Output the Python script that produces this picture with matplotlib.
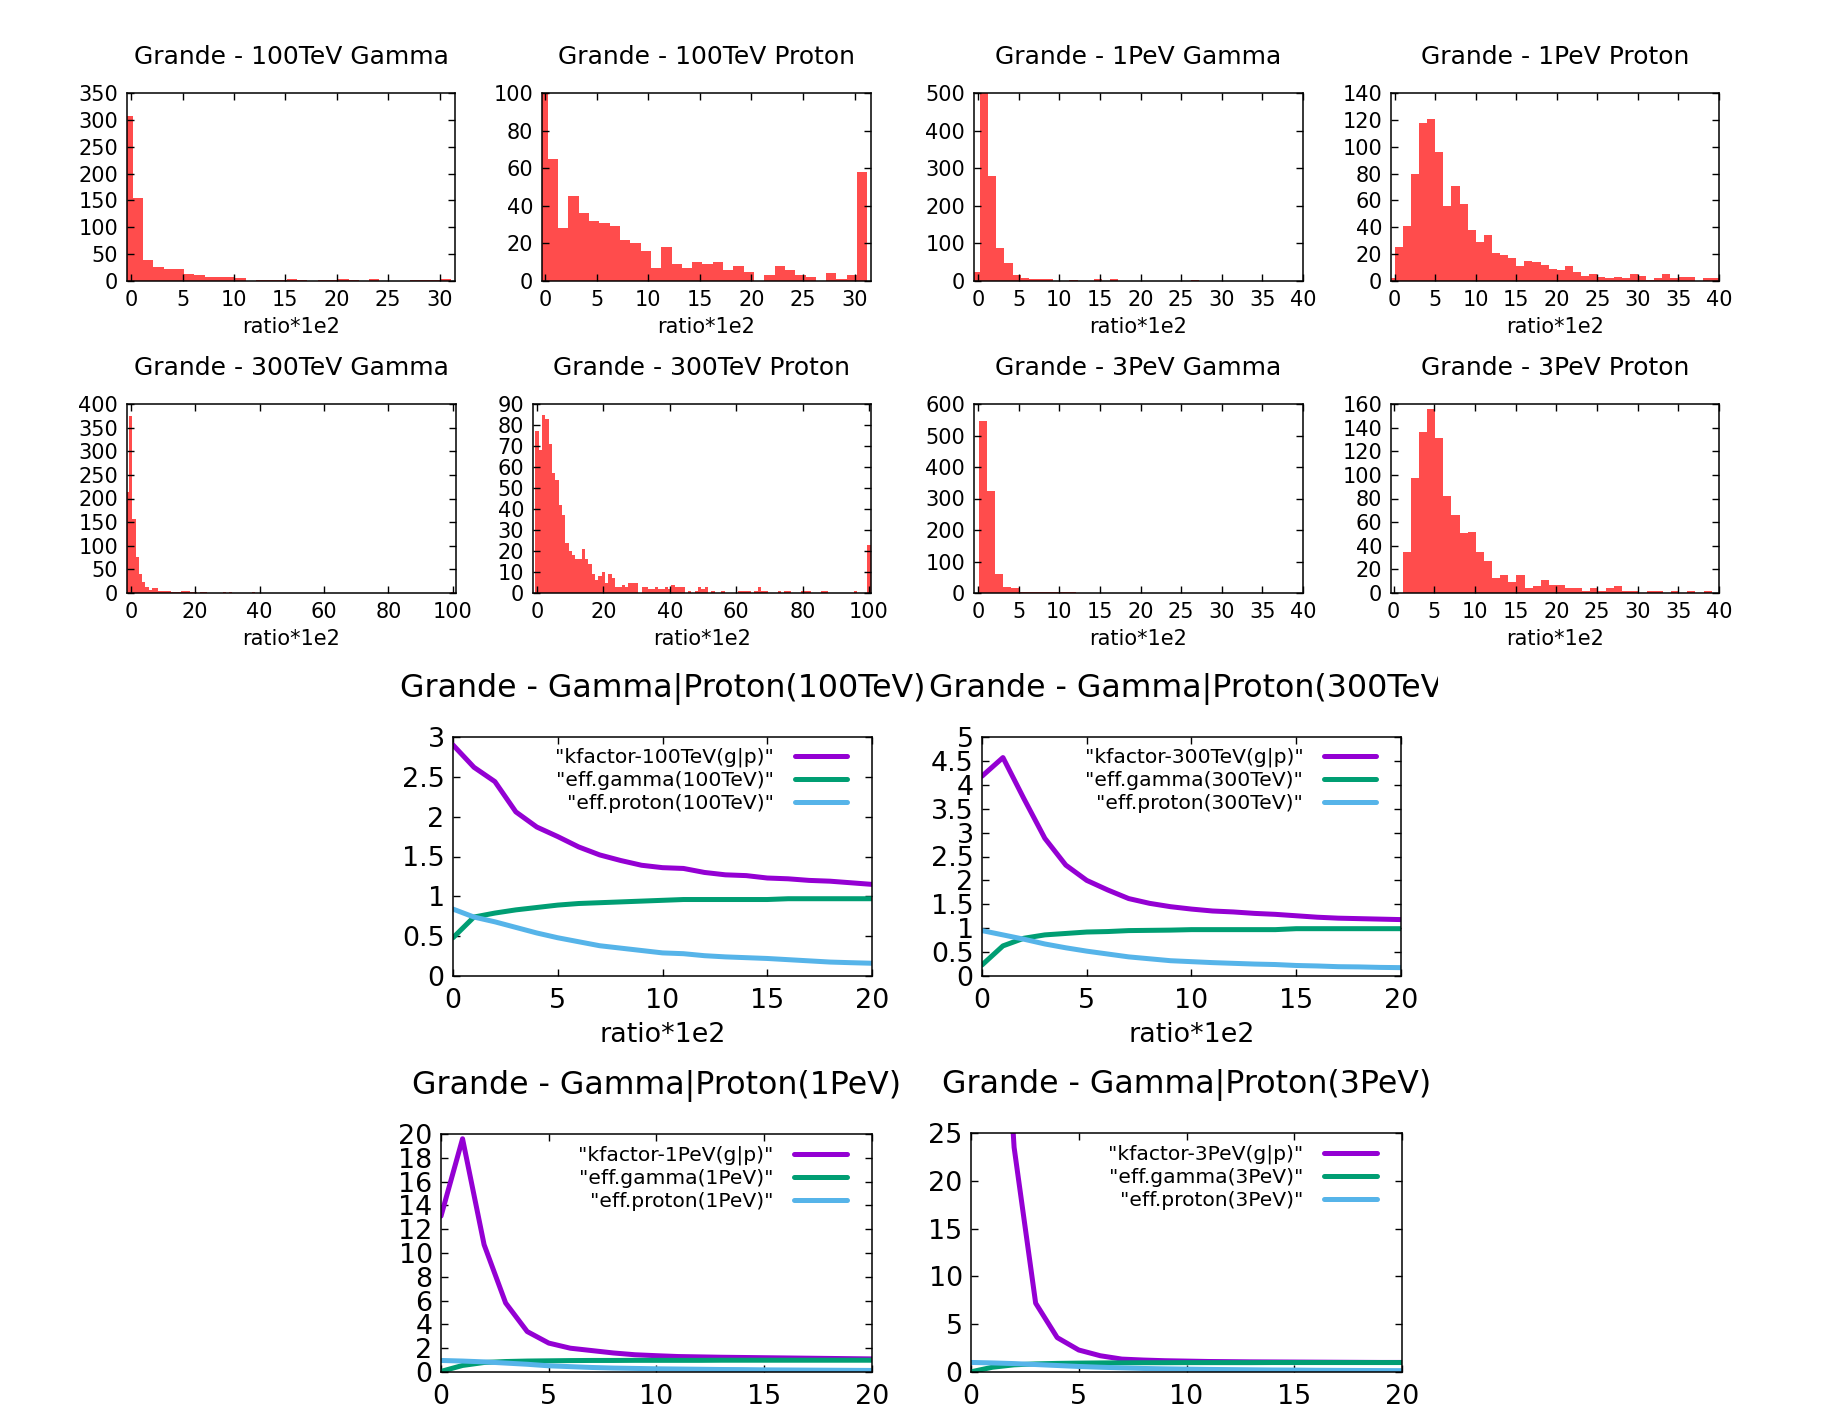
import numpy as np
import matplotlib
matplotlib.use('Agg')
import matplotlib.pyplot as plt
from matplotlib.patches import Rectangle
from matplotlib.ticker import FormatStrFormatter, MultipleLocator

# ---------------- data: histograms (ratio*1e2, counts) ----------------
hist_titles = ["Grande - 100TeV Gamma", "Grande - 100TeV Proton",
               "Grande - 1PeV Gamma", "Grande - 1PeV Proton",
               "Grande - 300TeV Gamma", "Grande - 300TeV Proton",
               "Grande - 3PeV Gamma", "Grande - 3PeV Proton"]

# 100TeV gamma: first bin center and counts (bin width 1)
g100_start = -0.35
g100_counts = [307, 155, 39, 26, 22, 22, 13, 11, 7, 7, 7, 5, 0, 1, 1, 1, 4, 1, 0, 1,
               1, 3, 1, 0, 3, 0, 0, 0, 1, 1, 1, 4]
p100_start = -0.25
p100_counts = [140, 65, 28, 45, 36, 32, 31, 29, 22, 20, 16, 7, 18, 9, 7, 10, 9, 10, 6, 8,
               5, 0, 3, 8, 6, 3, 2, 0, 4, 1, 3, 58]
g1P_start = -0.25
g1P_counts = [25, 560, 280, 88, 48, 15, 8, 4, 4, 4, 1, 0, 2, 0, 0, 4, 0, 4, 0, 0,
              1, 1, 1, 0, 1, 0, 1, 3, 0, 1, 1, 1]
p1P_start = -0.5
p1P_counts = [2, 25, 41, 80, 118, 121, 96, 56, 71, 57, 38, 29, 34, 21, 19, 17, 11, 15, 14, 12,
              9, 8, 11, 7, 4, 5, 3, 2, 3, 2, 5, 4, 1, 2, 5, 2, 3, 3, 0, 2, 2]
g300_x = [-1, 0, 1, 2, 3, 4, 5, 6, 7, 8, 9, 10, 11, 12, 13, 14, 15, 16, 17, 18, 19, 20,
          22, 23, 29, 31, 38, 72, 100]
g300_counts = [214, 375, 156, 76, 40, 23, 13, 7, 10, 10, 5, 5, 4, 4, 2, 2, 2, 4, 4, 4, 2, 2,
               3, 3, 3, 2, 3, 1, 2]
p300_x = [0, 1, 2, 3, 4, 5, 6, 7, 8, 9, 10, 11, 12, 13, 14, 15, 16, 17, 18, 19, 20, 21, 22,
          23, 24, 25, 26, 27, 28, 29, 30, 32, 33, 34, 35, 36, 37, 38, 39, 40, 41, 42, 43, 44,
          46, 48, 49, 50, 51, 53, 56, 61, 62, 63, 64, 66, 67, 68, 69, 73, 75, 76, 80, 81, 82,
          86, 87, 96, 100]
p300_counts = [77, 68, 85, 83, 71, 57, 54, 42, 37, 24, 20, 18, 16, 16, 21, 16, 14, 9, 6, 8, 10,
               5, 9, 7, 3, 3, 4, 3, 5, 5, 5, 3, 3, 2, 2, 3, 2, 2, 3, 2, 4, 3, 3, 3,
               1, 1, 3, 2, 3, 1, 1, 1, 1, 1, 1, 1, 3, 1, 1, 1, 1, 1, 1, 1, 1,
               1, 1, 1, 23]
g3P_start = 0.6
g3P_counts = [545, 325, 60, 19, 17, 4, 4, 4, 2, 2, 2, 4, 1, 1, 1, 1, 0, 1, 0, 0,
              1, 0, 1, 0, 1, 1, 0, 0, 0, 0, 0, 0, 0, 0, 0, 0, 1]
p3P_start = 1.6
p3P_counts = [35, 97, 136, 156, 131, 82, 66, 51, 52, 35, 27, 13, 15, 9, 15, 4, 6, 11, 7, 7,
              4, 4, 2, 4, 2, 4, 6, 2, 2, 0, 2, 2, 0, 2, 0, 2, 0, 2]

# ---------------- data: efficiency / k-factor curves ----------------
cut = list(range(21))
k100 = [2.90, 2.62, 2.44, 2.06, 1.87, 1.75, 1.62, 1.52, 1.45, 1.39, 1.36, 1.35, 1.30, 1.27,
        1.26, 1.23, 1.22, 1.20, 1.19, 1.17, 1.15]
g100 = [0.48, 0.74, 0.79, 0.83, 0.86, 0.89, 0.91, 0.92, 0.93, 0.94, 0.95, 0.96, 0.96, 0.96,
        0.96, 0.96, 0.97, 0.97, 0.97, 0.97, 0.97]
p100 = [0.84, 0.74, 0.68, 0.61, 0.54, 0.48, 0.43, 0.38, 0.35, 0.32, 0.29, 0.28, 0.255, 0.24,
        0.23, 0.22, 0.205, 0.19, 0.175, 0.167, 0.16]
k300 = [4.18, 4.57, 3.71, 2.88, 2.32, 2.00, 1.80, 1.62, 1.52, 1.45, 1.40, 1.36, 1.34, 1.31,
        1.29, 1.26, 1.23, 1.21, 1.20, 1.19, 1.18]
g300 = [0.23, 0.63, 0.79, 0.86, 0.89, 0.92, 0.93, 0.95, 0.955, 0.96, 0.97, 0.97, 0.97, 0.97,
        0.97, 0.99, 0.99, 0.99, 0.99, 0.99, 0.99]
p300 = [0.95, 0.86, 0.77, 0.67, 0.59, 0.52, 0.46, 0.40, 0.36, 0.32, 0.30, 0.28, 0.265, 0.25,
        0.24, 0.22, 0.21, 0.195, 0.19, 0.18, 0.175]
k1P = [13.1, 19.6, 10.7, 5.8, 3.4, 2.43, 2.0, 1.8, 1.6, 1.45, 1.37, 1.30, 1.27, 1.24, 1.22,
       1.20, 1.18, 1.16, 1.14, 1.12, 1.10]
g1P = [0.05, 0.55, 0.80, 0.88, 0.92, 0.94, 0.96, 0.97, 0.97, 0.98, 0.98, 0.98, 0.98, 0.99,
       0.99, 0.99, 0.99, 0.99, 0.99, 0.99, 0.99]
p1P = [0.97, 0.92, 0.85, 0.75, 0.65, 0.52, 0.45, 0.38, 0.33, 0.30, 0.27, 0.25, 0.23, 0.21,
       0.20, 0.18, 0.17, 0.16, 0.15, 0.14, 0.13]
k3P = [40.0, 60.0, 23.5, 7.2, 3.6, 2.3, 1.7, 1.35, 1.25, 1.18, 1.14, 1.10, 1.08, 1.06, 1.05,
       1.04, 1.03, 1.02, 1.01, 1.00, 1.00]
g3P = [0.02, 0.50, 0.75, 0.85, 0.90, 0.93, 0.95, 0.96, 0.97, 0.97, 0.98, 0.98, 0.98, 0.98,
       0.99, 0.99, 0.99, 0.99, 0.99, 0.99, 0.99]
p3P = [1.00, 0.95, 0.88, 0.78, 0.68, 0.58, 0.50, 0.43, 0.37, 0.33, 0.30, 0.27, 0.25, 0.23,
       0.21, 0.20, 0.18, 0.17, 0.16, 0.15, 0.14]

line_titles = ["Grande - Gamma|Proton(100TeV)", "Grande - Gamma|Proton(300TeV)",
               "Grande - Gamma|Proton(1PeV)", "Grande - Gamma|Proton(3PeV)"]
energies = ["100TeV", "300TeV", "1PeV", "3PeV"]

# ---------------- figure ----------------
W, H = 1824, 1420
fig = plt.figure(figsize=(W / 100, H / 100), dpi=100)
fig.patch.set_facecolor('white')


def px_axes(l, r, t, b):
    return fig.add_axes([l / W, 1 - b / H, (r - l) / W, (b - t) / H])


def style(ax, fs, xpad, ypad):
    for s in ax.spines.values():
        s.set_linewidth(1.1)
        s.set_color('black')
    ax.tick_params(direction='in', top=True, right=True, length=5.2, width=1.0,
                   labelsize=fs, colors='black')
    ax.tick_params(axis='x', pad=xpad)
    ax.tick_params(axis='y', pad=ypad)
    ax.yaxis.set_major_formatter(FormatStrFormatter('%g'))
    ax.xaxis.set_major_formatter(FormatStrFormatter('%g'))


RED = '#ff0000'
HFS = 15.0

hist_specs = [
    # (l, r, t, b, x, counts, xlim, xstep, ylim, ystep)
    (127, 455, 93, 281, g100_start + np.arange(len(g100_counts)), g100_counts, (-0.4, 31.5), 5, 350, 50),
    (542, 871, 93, 281, p100_start + np.arange(len(p100_counts)), p100_counts, (-0.32, 31.6), 5, 100, 20),
    (974, 1303, 93, 281, g1P_start + np.arange(len(g1P_counts)), g1P_counts, (-0.5, 40), 5, 500, 100),
    (1391, 1719, 93, 281, p1P_start + np.arange(len(p1P_counts)), p1P_counts, (-0.45, 40), 5, 140, 20),
    (127, 456, 404, 593, np.array(g300_x), g300_counts, (-1.2, 101), 20, 400, 50),
    (533, 871, 404, 593, np.array(p300_x), p300_counts, (-1.2, 100.6), 20, 90, 10),
    (974, 1303, 404, 593, g3P_start + np.arange(len(g3P_counts)), g3P_counts, (-0.5, 40), 5, 600, 100),
    (1391, 1719, 404, 593, p3P_start + np.arange(len(p3P_counts)), p3P_counts, (-0.33, 40), 5, 160, 20),
]

for title, (l, r, t, b, x, cnt, xl, xs, ymax, ys) in zip(hist_titles, hist_specs):
    ax = px_axes(l, r, t, b)
    ax.bar(x, cnt, width=1.0, color=RED, alpha=0.7, linewidth=0)
    ax.set_xlim(*xl)
    ax.set_ylim(0, ymax)
    ax.xaxis.set_major_locator(MultipleLocator(xs))
    ax.yaxis.set_major_locator(MultipleLocator(ys))
    style(ax, HFS, 6.3, 6.3)
    ax.set_xlabel('ratio*1e2', fontsize=HFS, va='baseline')
    ax.xaxis.set_label_coords(0.5, -52 / (b - t))
    fig.text((l + r) / 2 / W, 1 - (t - 29) / H, title, fontsize=18.0,
             ha='center', va='baseline')

# ---------------- line charts ----------------
PURPLE, GREEN, BLUE = '#9400d3', '#009e73', '#56b4e9'
LFS = 19.4
line_specs = [
    (453, 872, 737, 976, k100, g100, p100, 3, 0.5, -66.5, 0.955),
    (982, 1401, 737, 976, k300, g300, p300, 5, 0.5, -66.5, 0.955),
    (441, 872, 1134, 1372, k1P, g1P, p1P, 20, 2, -72, 0.951),
    (971, 1402, 1133, 1372, k3P, g3P, p3P, 25, 5, -72, 0.951),
]

for title, en, (l, r, t, b, kf, eg, ep, ymax, ystep, xlab_off, legy) in zip(line_titles, energies, line_specs):
    ax = px_axes(l, r, t, b)
    ax.plot(cut, kf, color=PURPLE, lw=3.6, solid_capstyle='round', solid_joinstyle='round',
            label='"kfactor-%s(g|p)"' % en)
    ax.plot(cut, eg, color=GREEN, lw=3.6, solid_capstyle='round', solid_joinstyle='round',
            label='"eff.gamma(%s)"' % en)
    ax.plot(cut, ep, color=BLUE, lw=3.6, solid_capstyle='round', solid_joinstyle='round',
            label='"eff.proton(%s)"' % en)
    ax.set_xlim(0, 20)
    ax.set_ylim(0, ymax)
    ax.xaxis.set_major_locator(MultipleLocator(5))
    ax.yaxis.set_major_locator(MultipleLocator(ystep))
    style(ax, LFS, 8.5, 6.0)
    ax.set_xlabel('ratio*1e2', fontsize=LFS, va='baseline')
    ax.xaxis.set_label_coords(0.5, xlab_off / (b - t))
    leg = ax.legend(loc='upper right', bbox_to_anchor=(0.941, legy), frameon=False,
                    markerfirst=False, fontsize=14.6, handlelength=2.6, handletextpad=1.0,
                    labelspacing=0.2, borderpad=0.0, borderaxespad=0.0)
    fig.text((l + r) / 2 / W, 1 - (t - 40) / H, title, fontsize=22.8,
             ha='center', va='baseline')

# the source picture is cut off on the right of the middle row of titles
fig.add_artist(Rectangle((1438 / W, 1 - 735 / H), 1 - 1438 / W, 90 / H,
                         transform=fig.transFigure, facecolor='white',
                         edgecolor='none', zorder=10))

fig.savefig('out.png', dpi=100, facecolor='white')
